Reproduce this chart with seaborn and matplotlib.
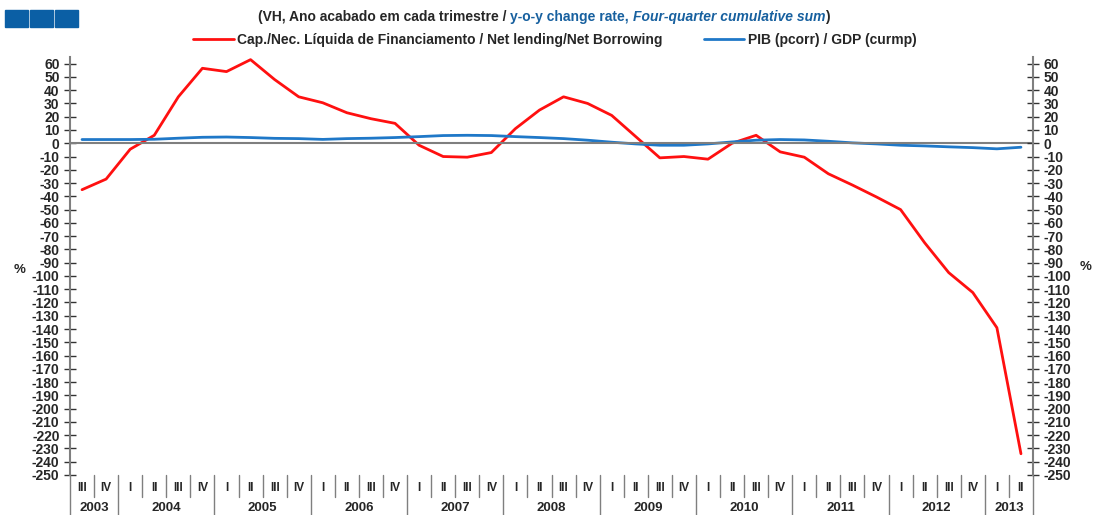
import numpy as np
import pandas as pd
import matplotlib.pyplot as plt
import seaborn as sns
from matplotlib.patches import Rectangle
import matplotlib.transforms as mtransforms

# -------------------------------------------------
# Dados (trimestres 2003 III a 2013 II)
# -------------------------------------------------
anos = [2003] * 2 + [a for a in range(2004, 2013) for _ in range(4)] + [2013] * 2
trimestres = ["III", "IV"] + ["I", "II", "III", "IV"] * 9 + ["I", "II"]

cap_nec = [-35, -27, -4.5, 6, 35, 56.5, 54, 63, 48, 35,
           30.5, 23, 18.5, 15, -1.5, -10, -10.5, -7, 11, 25,
           35, 30, 21, 5, -11, -10, -12, 0, 6, -6.5,
           -10.5, -23, -31.5, -40.5, -50, -75, -97.5, -112.5, -139, -234]
pib = [2.8, 2.8, 2.8, 3, 3.8, 4.5, 4.7, 4.3, 3.7, 3.5,
       2.9, 3.5, 3.8, 4.3, 5, 5.8, 6, 5.8, 5, 4.3,
       3.5, 2.3, 0.8, -0.5, -1.5, -1.5, -0.5, 1, 2.3, 2.8,
       2.5, 1.5, 0.3, -0.5, -1.5, -2, -2.7, -3.3, -4.2, -3]

lbl_cap = "Cap./Nec. Líquida de Financiamento / Net lending/Net Borrowing"
lbl_pib = "PIB (pcorr) / GDP (curmp)"

df = pd.DataFrame({"pos": np.arange(len(trimestres)), "ano": anos,
                   "trim": trimestres, "cap": cap_nec, "pib": pib})

# -------------------------------------------------
# Estilo
# -------------------------------------------------
sns.set_style("white")
plt.rcParams["font.family"] = ["Liberation Sans", "DejaVu Sans"]
plt.rcParams["font.weight"] = "bold"
plt.rcParams["axes.unicode_minus"] = False

W, H = 1093, 515
fig = plt.figure(figsize=(W / 100, H / 100), dpi=100)
ax = fig.add_axes([70 / W, 40 / H, 963 / W, 418 / H])

sns.lineplot(data=df, x="pos", y="cap", ax=ax, color="#ff1010", lw=2, label=lbl_cap)
sns.lineplot(data=df, x="pos", y="pib", ax=ax, color="#1f78c8", lw=2, label=lbl_pib)
ax.get_legend().remove()

grey = "#7f7f7f"
yt = np.arange(-250, 61, 10)
ax.set_xlim(-0.5, len(df) - 0.5)
ax.set_ylim(-250, 65)
ax.set_yticks(yt)
ax.set_xlabel("")
ax.set_ylabel("")

for s in ["top", "right"]:
    ax.spines[s].set_visible(False)
ax.spines["left"].set_color(grey)
ax.spines["left"].set_linewidth(1.5)
ax.spines["bottom"].set_position(("data", 0))
ax.spines["bottom"].set_color(grey)
ax.spines["bottom"].set_linewidth(1.5)

ax.set_xticks(np.arange(0.5, len(df) - 1, 1))
ax.tick_params(axis="x", direction="out", length=4, width=1, color="#333333",
               labelbottom=False)
ax.tick_params(axis="y", direction="inout", length=9, width=1, color="#333333",
               labelsize=10, pad=3)
for t in ax.get_yticklabels():
    t.set_fontweight("bold")

ax2 = ax.twinx()
ax2.set_ylim(ax.get_ylim())
ax2.set_yticks(yt)
for s in ["top", "left", "bottom"]:
    ax2.spines[s].set_visible(False)
ax2.spines["right"].set_color(grey)
ax2.spines["right"].set_linewidth(1.5)
ax2.tick_params(axis="y", direction="inout", length=9, width=1, color="#333333",
                labelsize=10, pad=3)
for t in ax2.get_yticklabels():
    t.set_fontweight("bold")

# -------------------------------------------------
# Eixo de categorias (trimestres / anos)
# -------------------------------------------------
tr = mtransforms.blended_transform_factory(ax.transData, ax.transAxes)
q_bot = -22 / 418
y_bot = -40 / 418
year_start = [i for i in range(len(df)) if i == 0 or anos[i] != anos[i - 1]]
for i in range(len(df) + 1):
    x = i - 0.5
    long_sep = i in year_start or i == len(df)
    ax.plot([x, x], [0, y_bot if long_sep else q_bot], transform=tr,
            color=grey, lw=1, clip_on=False)
for i, q in enumerate(trimestres):
    ax.text(i, -13 / 418, q, transform=tr, ha="center", va="center",
            fontsize=8.5, fontweight="bold")
for a in sorted(set(anos)):
    idx = [i for i in range(len(df)) if anos[i] == a]
    ax.text(np.mean(idx), -33 / 418, str(a), transform=tr, ha="center",
            va="center", fontsize=9.5, fontweight="bold")

# "%" nas laterais
fig.text(20 / W, 1 - 270 / H, "%", ha="center", va="center", fontsize=9.5, fontweight="bold")
fig.text(1086 / W, 1 - 267 / H, "%", ha="center", va="center", fontsize=9.5, fontweight="bold")

# -------------------------------------------------
# Título em partes
# -------------------------------------------------
blue_t = "#17609f"
fs_t = 10
t1 = fig.text(258 / W, 1 - 17 / H, "(VH, Ano acabado em cada trimestre / ",
              ha="left", va="center", fontsize=fs_t, fontweight="bold")
t2 = ax.annotate("y-o-y change rate, ", xy=(1, 0), xycoords=t1, va="bottom",
                 ha="left", fontsize=fs_t, fontweight="bold", color=blue_t,
                 annotation_clip=False)
t3 = ax.annotate("Four-quarter cumulative sum", xy=(1, 0), xycoords=t2, va="bottom",
                 ha="left", fontsize=fs_t, fontweight="bold", style="italic",
                 color=blue_t, annotation_clip=False)
ax.annotate(")", xy=(1, 0), xycoords=t3, va="bottom", ha="left", fontsize=fs_t,
            fontweight="bold", annotation_clip=False)

# logótipo (três quadrados)
for x0 in [5, 30, 55]:
    fig.patches.append(Rectangle((x0 / W, 1 - 27 / H), 23 / W, 17 / H,
                                 transform=fig.transFigure, color="#0b5fa5"))

# legenda
h, l = ax.get_legend_handles_labels()
fig.legend(h, l, loc="center", bbox_to_anchor=(555 / W, 1 - 40 / H), ncol=2,
           frameon=False, fontsize=10, handlelength=2.9, columnspacing=3.0,
           handletextpad=0.25, borderaxespad=0)

fig.savefig("out.png", dpi=100)
